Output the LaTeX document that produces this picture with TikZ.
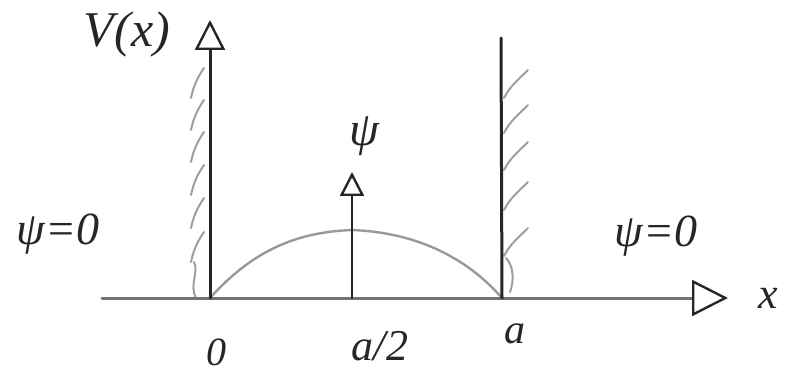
\documentclass[tikz,border=0pt]{standalone}
\usepackage{fontspec}
\setmainfont{Liberation Serif}
\usetikzlibrary{arrows.meta}
\begin{document}
\begin{tikzpicture}[x=1pt,y=-1pt,
  axisline/.style={draw=black!85, line width=3pt, line cap=round},
  baseline/.style={draw=black!55, line width=3pt, line cap=round},
  graystroke/.style={draw=black!40, line width=2.4pt, line cap=round},
  hatchstroke/.style={draw=black!38, line width=2pt, line cap=round},
  openhead/.style={-{Triangle[open, length=#1, width=#1, line width=2.4pt, color=black!85]}},
  lbl/.style={text=black!85, inner sep=0pt, font=\fontsize{#1}{#1}\selectfont\itshape},
  lbl/.default=40]
\useasboundingbox (0,0) rectangle (788,377);
% key points
\coordinate (xstart) at (102,298);
\coordinate (O) at (210,298);
\coordinate (M) at (352,298);
\coordinate (A) at (502,298);
\coordinate (xend) at (728,298);
\coordinate (Vtop) at (210,20);
\coordinate (Ptop) at (352,172);
\coordinate (Atop) at (501,38);
\coordinate (peak) at (352,230);
% hatching, left wall (wavy)
\foreach \y in {68,100,132,165,198,232}
  \draw[hatchstroke] (191,\y+30) .. controls (194,\y+15) and (200,\y+6) .. (204,\y);
\draw[hatchstroke] (196,298) .. controls (189,285) and (199,272) .. (194,262);
% hatching, right wall
\foreach \y in {70,105,142,182,228}
  \draw[hatchstroke] (504,\y+28) .. controls (510,\y+16) and (520,\y+8) .. (528,\y);
\draw[hatchstroke] (506,258) .. controls (514,266) and (514,282) .. (510,292);
% wave function
\draw[graystroke] (O) .. controls (255,248) and (300,232) .. (peak)
  .. controls (405,232) and (460,250) .. (A);
% axes
\draw[baseline, openhead=36] (xstart) -- (xend);
\draw[axisline, openhead=30] (O) -- (Vtop);
\draw[axisline, line width=2.6pt, openhead=24] (M) -- (Ptop);
\draw[axisline] (A) -- (Atop);
% labels
\node[lbl=50] (Vlab) at (127,34) {V(x)};
\node[lbl=48] (psitop) at (364,136) {ψ};
\node[lbl=46] (psil) at (58,234) {ψ=0};
\node[lbl=46] (psir) at (656,236) {ψ=0};
\node[lbl=44] (xlab) at (768,298) {x};
\node[lbl=40] (zero) at (216,352) {0};
\node[lbl=44] (half) at (380,346) {a/2};
\node[lbl=42] (alab) at (515,334) {a};
\end{tikzpicture}
\end{document}
